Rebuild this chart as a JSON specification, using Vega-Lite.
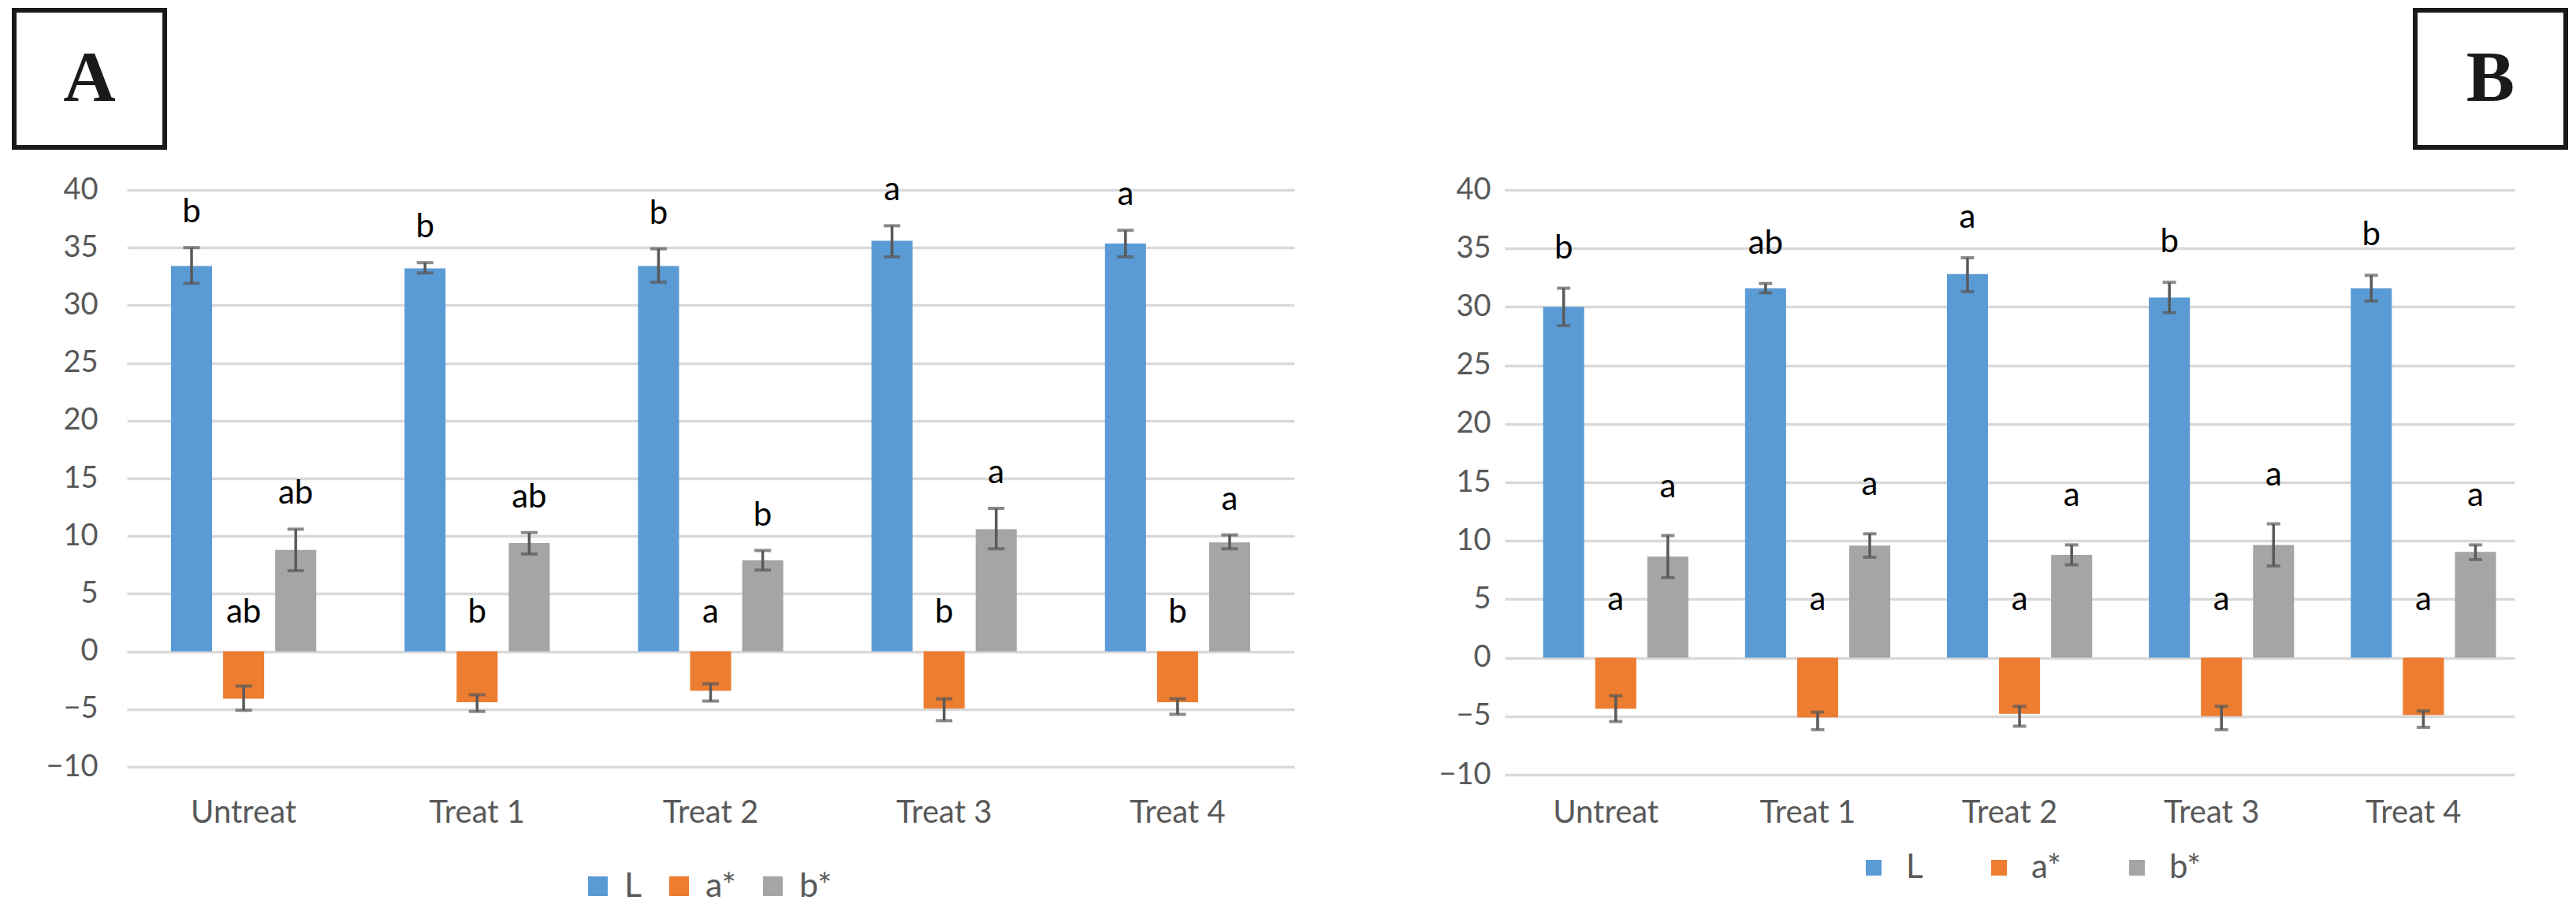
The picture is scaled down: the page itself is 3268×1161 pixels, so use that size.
{
  "$schema": "https://vega.github.io/schema/vega-lite/v6.json",
  "background": "white",
  "padding": {"left": 15, "top": 10, "right": 5, "bottom": 5},
  "config": {"view": {"stroke": null}, "font": "Lato"},
  "datasets": {
    "boxA": [{"label": "A"}],
    "boxB": [{"label": "B"}],
    "spacer": [],
    "panelA": [
      {"treat": "Untreat", "series": "L", "value": 33.4, "lo": 31.9, "hi": 35.0, "letter": "b"},
      {"treat": "Untreat", "series": "a*", "value": -4.1, "lo": -5.1, "hi": -3.0, "letter": "ab"},
      {"treat": "Untreat", "series": "b*", "value": 8.8, "lo": 7.0, "hi": 10.6, "letter": "ab"},
      {"treat": "Treat 1", "series": "L", "value": 33.2, "lo": 32.8, "hi": 33.7, "letter": "b"},
      {"treat": "Treat 1", "series": "a*", "value": -4.4, "lo": -5.2, "hi": -3.75, "letter": "b"},
      {"treat": "Treat 1", "series": "b*", "value": 9.4, "lo": 8.45, "hi": 10.3, "letter": "ab"},
      {"treat": "Treat 2", "series": "L", "value": 33.4, "lo": 32.0, "hi": 34.9, "letter": "b"},
      {"treat": "Treat 2", "series": "a*", "value": -3.4, "lo": -4.3, "hi": -2.8, "letter": "a"},
      {"treat": "Treat 2", "series": "b*", "value": 7.9, "lo": 7.05, "hi": 8.75, "letter": "b"},
      {"treat": "Treat 3", "series": "L", "value": 35.6, "lo": 34.2, "hi": 36.9, "letter": "a"},
      {"treat": "Treat 3", "series": "a*", "value": -4.95, "lo": -6.0, "hi": -4.1, "letter": "b"},
      {"treat": "Treat 3", "series": "b*", "value": 10.6, "lo": 8.9, "hi": 12.4, "letter": "a"},
      {"treat": "Treat 4", "series": "L", "value": 35.35, "lo": 34.2, "hi": 36.5, "letter": "a"},
      {"treat": "Treat 4", "series": "a*", "value": -4.4, "lo": -5.45, "hi": -4.1, "letter": "b"},
      {"treat": "Treat 4", "series": "b*", "value": 9.45, "lo": 8.9, "hi": 10.1, "letter": "a"}
    ],
    "panelB": [
      {"treat": "Untreat", "series": "L", "value": 30.0, "lo": 28.4, "hi": 31.6, "letter": "b"},
      {"treat": "Untreat", "series": "a*", "value": -4.35, "lo": -5.45, "hi": -3.25, "letter": "a"},
      {"treat": "Untreat", "series": "b*", "value": 8.65, "lo": 6.85, "hi": 10.45, "letter": "a"},
      {"treat": "Treat 1", "series": "L", "value": 31.6, "lo": 31.2, "hi": 32.0, "letter": "ab"},
      {"treat": "Treat 1", "series": "a*", "value": -5.1, "lo": -6.15, "hi": -4.65, "letter": "a"},
      {"treat": "Treat 1", "series": "b*", "value": 9.6, "lo": 8.6, "hi": 10.6, "letter": "a"},
      {"treat": "Treat 2", "series": "L", "value": 32.8, "lo": 31.3, "hi": 34.2, "letter": "a"},
      {"treat": "Treat 2", "series": "a*", "value": -4.8, "lo": -5.85, "hi": -4.15, "letter": "a"},
      {"treat": "Treat 2", "series": "b*", "value": 8.8, "lo": 7.95, "hi": 9.65, "letter": "a"},
      {"treat": "Treat 3", "series": "L", "value": 30.8, "lo": 29.5, "hi": 32.1, "letter": "b"},
      {"treat": "Treat 3", "series": "a*", "value": -5.0, "lo": -6.15, "hi": -4.15, "letter": "a"},
      {"treat": "Treat 3", "series": "b*", "value": 9.65, "lo": 7.85, "hi": 11.45, "letter": "a"},
      {"treat": "Treat 4", "series": "L", "value": 31.6, "lo": 30.5, "hi": 32.7, "letter": "b"},
      {"treat": "Treat 4", "series": "a*", "value": -4.9, "lo": -5.95, "hi": -4.55, "letter": "a"},
      {"treat": "Treat 4", "series": "b*", "value": 9.05, "lo": 8.4, "hi": 9.65, "letter": "a"}
    ]
  },
  "spacing": 30,
  "vconcat": [
    {
      "hconcat": [
        {
          "width": 191, "height": 174,
          "view": {"stroke": "#1a1a1a", "strokeWidth": 6, "fill": "white"},
          "data": {"name": "boxA"},
          "mark": {"type": "text", "font": "Liberation Serif", "fontWeight": "bold", "fontSize": 92, "baseline": "middle", "align": "center", "color": "#1a1a1a"},
          "encoding": {"text": {"field": "label", "type": "nominal"}}
        },
        {
          "width": 191, "height": 174,
          "view": {"stroke": "#1a1a1a", "strokeWidth": 6, "fill": "white"},
          "data": {"name": "boxB"},
          "mark": {"type": "text", "font": "Liberation Serif", "fontWeight": "bold", "fontSize": 92, "baseline": "middle", "align": "center", "color": "#1a1a1a"},
          "encoding": {"text": {"field": "label", "type": "nominal"}}
        }
      ],
      "spacing": 2855,
      "bounds": "flush"
    },
    {
      "hconcat": [
        {
          "width": 1, "height": 1,
          "data": {"name": "spacer"},
          "mark": {"type": "point", "opacity": 0},
          "encoding": {}
        },
        {
          "width": 1481, "height": 732,
          "data": {"name": "panelA"},
          "encoding": {
            "x": {"field": "treat", "type": "nominal", "sort": ["Untreat", "Treat 1", "Treat 2", "Treat 3", "Treat 4"],
                  "scale": {"paddingInner": 0.378, "paddingOuter": 0.189},
                  "axis": {"title": null, "labelAngle": 0, "domain": false, "ticks": false, "tickSize": 0, "grid": false, "labelPadding": 38, "labelFontSize": 40, "labelColor": "#595959", "labelFont": "Lato"}},
            "xOffset": {"field": "series", "type": "nominal", "sort": ["L", "a*", "b*"], "scale": {"paddingInner": 0.212, "paddingOuter": 0}}
          },
          "layer": [
            {
              "mark": {"type": "bar"},
              "encoding": {
                "y": {"field": "value", "type": "quantitative", "scale": {"domain": [-10, 40], "nice": false},
                      "axis": {"title": null, "values": [-10, -5, 0, 5, 10, 15, 20, 25, 30, 35, 40], "domain": false, "ticks": false, "tickSize": 0, "grid": true, "gridColor": "#D9D9D9", "gridWidth": 3.5, "labelFontSize": 38, "labelColor": "#595959", "labelPadding": 37, "minExtent": 100, "labelFont": "Lato"}},
                "color": {"field": "series", "type": "nominal", "scale": {"domain": ["L", "a*", "b*"], "range": ["#5B9BD5", "#ED7D31", "#A5A5A5"]},
                          "legend": {"title": null, "orient": "none", "legendX": 576, "legendY": 862, "padding": 0, "direction": "horizontal", "gridAlign": "none", "symbolType": "square", "symbolSize": 625, "symbolStrokeWidth": 0, "labelFontSize": 43, "labelColor": "#595959", "labelFont": "Lato", "labelOffset": 12, "columnPadding": 25}}
              }
            },
            {
              "mark": {"type": "rule", "color": "#595959", "strokeWidth": 3.5},
              "encoding": {"y": {"field": "lo", "type": "quantitative", "axis": {"title": null}}, "y2": {"field": "hi"}}
            },
            {
              "mark": {"type": "tick", "color": "#595959", "thickness": 4, "size": 21},
              "encoding": {"y": {"field": "lo", "type": "quantitative", "axis": {"title": null}}}
            },
            {
              "mark": {"type": "tick", "color": "#595959", "thickness": 4, "size": 21},
              "encoding": {"y": {"field": "hi", "type": "quantitative", "axis": {"title": null}}}
            },
            {
              "transform": [{"filter": "datum.series !== 'a*'"}],
              "mark": {"type": "text", "baseline": "alphabetic", "dy": -32, "fontSize": 42, "color": "#000000", "font": "Lato"},
              "encoding": {"y": {"field": "hi", "type": "quantitative", "axis": {"title": null}}, "text": {"field": "letter", "type": "nominal"}}
            },
            {
              "transform": [{"filter": "datum.series === 'a*'"}],
              "mark": {"type": "text", "baseline": "alphabetic", "dy": -37, "fontSize": 42, "color": "#000000", "font": "Lato"},
              "encoding": {"y": {"datum": 0, "type": "quantitative", "axis": {"title": null}}, "text": {"field": "letter", "type": "nominal"}}
            }
          ]
        },
        {
          "width": 1281, "height": 742,
          "data": {"name": "panelB"},
          "encoding": {
            "x": {"field": "treat", "type": "nominal", "sort": ["Untreat", "Treat 1", "Treat 2", "Treat 3", "Treat 4"],
                  "scale": {"paddingInner": 0.379, "paddingOuter": 0.19},
                  "axis": {"title": null, "labelAngle": 0, "domain": false, "ticks": false, "tickSize": 0, "grid": false, "labelPadding": 28, "labelFontSize": 40, "labelColor": "#595959", "labelFont": "Lato"}},
            "xOffset": {"field": "series", "type": "nominal", "sort": ["L", "a*", "b*"], "scale": {"paddingInner": 0.21, "paddingOuter": 0}}
          },
          "layer": [
            {
              "mark": {"type": "bar"},
              "encoding": {
                "y": {"field": "value", "type": "quantitative", "scale": {"domain": [-10, 40], "nice": false},
                      "axis": {"title": null, "values": [-10, -5, 0, 5, 10, 15, 20, 25, 30, 35, 40], "domain": false, "ticks": false, "tickSize": 0, "grid": true, "gridColor": "#D9D9D9", "gridWidth": 3.5, "labelFontSize": 38, "labelColor": "#595959", "labelPadding": 18, "minExtent": 229, "labelFont": "Lato"}},
                "color": {"field": "series", "type": "nominal", "scale": {"domain": ["L", "a*", "b*"], "range": ["#5B9BD5", "#ED7D31", "#A5A5A5"]},
                          "legend": {"title": null, "orient": "none", "legendX": 447, "legendY": 839, "padding": 0, "direction": "horizontal", "gridAlign": "none", "symbolType": "square", "symbolSize": 400, "symbolStrokeWidth": 0, "labelFontSize": 42, "labelColor": "#595959", "labelFont": "Lato", "labelOffset": 20, "columnPadding": 75}}
              }
            },
            {
              "mark": {"type": "rule", "color": "#595959", "strokeWidth": 3.5},
              "encoding": {"y": {"field": "lo", "type": "quantitative", "axis": {"title": null}}, "y2": {"field": "hi"}}
            },
            {
              "mark": {"type": "tick", "color": "#595959", "thickness": 4, "size": 17},
              "encoding": {"y": {"field": "lo", "type": "quantitative", "axis": {"title": null}}}
            },
            {
              "mark": {"type": "tick", "color": "#595959", "thickness": 4, "size": 17},
              "encoding": {"y": {"field": "hi", "type": "quantitative", "axis": {"title": null}}}
            },
            {
              "transform": [{"filter": "datum.series === 'L'"}],
              "mark": {"type": "text", "baseline": "alphabetic", "dy": -38, "fontSize": 42, "color": "#000000", "font": "Lato"},
              "encoding": {"y": {"field": "hi", "type": "quantitative", "axis": {"title": null}}, "text": {"field": "letter", "type": "nominal"}}
            },
            {
              "transform": [{"filter": "datum.series === 'b*'"}],
              "mark": {"type": "text", "baseline": "alphabetic", "dy": -49, "fontSize": 42, "color": "#000000", "font": "Lato"},
              "encoding": {"y": {"field": "hi", "type": "quantitative", "axis": {"title": null}}, "text": {"field": "letter", "type": "nominal"}}
            },
            {
              "transform": [{"filter": "datum.series === 'a*'"}],
              "mark": {"type": "text", "baseline": "alphabetic", "dy": -61, "fontSize": 42, "color": "#000000", "font": "Lato"},
              "encoding": {"y": {"datum": 0, "type": "quantitative", "axis": {"title": null}}, "text": {"field": "letter", "type": "nominal"}}
            }
          ]
        }
      ],
      "spacing": 38,
      "resolve": {"scale": {"color": "independent"}, "legend": {"color": "independent"}}
    }
  ]
}
